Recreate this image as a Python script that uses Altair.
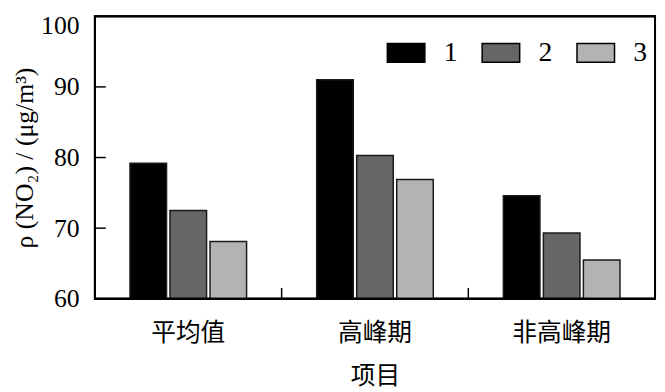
import altair as alt
import pandas as pd

categories = ["平均值", "高峰期", "非高峰期"]
series = ["1", "2", "3"]
values_1 = [79.2, 91.0, 74.6]
values_2 = [72.5, 80.3, 69.3]
values_3 = [68.1, 76.9, 65.5]
y_ticks = [60, 70, 80, 90, 100]
colors = ["#000000", "#666666", "#b3b3b3"]

rows = []
for s, vals in zip(series, [values_1, values_2, values_3]):
    for c, v in zip(categories, vals):
        rows.append({"cat": c, "series": s, "value": v})
df = pd.DataFrame(rows)

W, H = 567, 286
SERIF = "Liberation Serif"
CJK = "Noto Sans CJK SC"

x_scale = alt.Scale(domain=categories, paddingInner=0, paddingOuter=0)
y_scale = alt.Scale(domain=[60, 100], zero=False, nice=False)

x_axis = alt.Axis(tickSize=0, domain=False, labelAngle=0, labelFont=CJK, labelFontSize=25,
                  labelColor="black", labelPadding=22, title="项目", titleFont=CJK,
                  titleFontSize=25, titleFontWeight="normal", titleColor="black", titlePadding=19)
y_axis = alt.Axis(values=y_ticks, tickSize=0, domain=False, grid=False, labelFont=SERIF,
                  labelFontSize=26, labelColor="black", labelPadding=16,
                  labelOffset={"condition": {"test": "datum.value == 100", "value": 9}, "value": 0},
                  title="ρ (NO₂) / (μg/m³)", titleFont=SERIF, titleFontSize=26,
                  titleFontWeight="normal", titleColor="black", titlePadding=3)

bars = alt.Chart(df).mark_bar(clip=True, stroke="#1a1a1a", strokeWidth=1.5).encode(
    x=alt.X("cat:N", scale=x_scale, sort=categories, axis=x_axis),
    xOffset=alt.XOffset("series:N", scale=alt.Scale(domain=series, paddingInner=0.086, paddingOuter=0.876)),
    y=alt.Y("value:Q", scale=y_scale, axis=y_axis),
    color=alt.Color("series:N", scale=alt.Scale(domain=series, range=colors),
                    legend=alt.Legend(orient="none", legendX=295, legendY=17, direction="horizontal",
                                      title=None, symbolType="M-1,-0.5h2v1h-2z", symbolSize=1444,
                                      symbolStrokeColor="black", symbolStrokeWidth=1.5, symbolOpacity=1,
                                      labelFont=SERIF, labelFontSize=28, labelColor="black",
                                      labelOffset=18, columnPadding=22)),
)

ytick_df = pd.DataFrame({"value": y_ticks[1:-1]})
yticks = alt.Chart(ytick_df).mark_rule(color="black", strokeWidth=1.5).encode(
    y=alt.Y("value:Q", scale=y_scale, axis=y_axis),
    x=alt.value(0), x2=alt.value(11),
)

xtick_df = pd.DataFrame({"cat": categories[1:]})
xticks = alt.Chart(xtick_df).mark_rule(color="black", strokeWidth=1.5).encode(
    x=alt.X("cat:N", scale=x_scale, sort=categories, axis=x_axis, bandPosition=0),
    y=alt.value(H), y2=alt.value(H - 11),
)

frame = alt.Chart(xtick_df).mark_rect(fill=None, stroke="black", strokeWidth=2).encode(
    x=alt.value(0), x2=alt.value(W), y=alt.value(0), y2=alt.value(H),
)

chart = alt.layer(bars, yticks, xticks, frame).properties(
    width=W, height=H,
    autosize=alt.AutoSizeParams(type="none"),
    padding={"left": 88, "top": 6, "right": 2, "bottom": 92},
    background="white",
).configure_view(stroke="black", strokeWidth=2).configure_axis(
    labelFont=SERIF, titleFont=SERIF, labelColor="black", titleColor="black"
)

chart.save("out.html", embed_options={"renderer": "svg", "actions": False})
